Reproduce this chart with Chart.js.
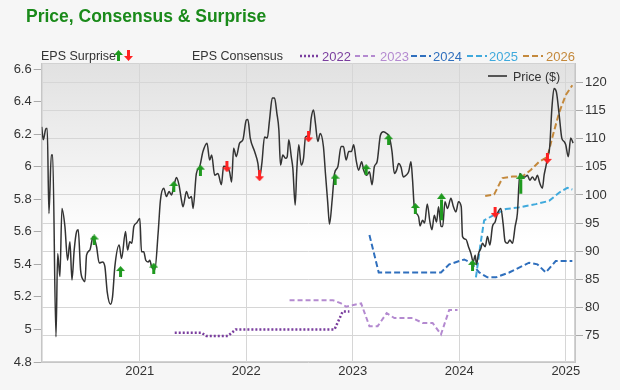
<!DOCTYPE html>
<html>
<head>
<meta charset="utf-8">
<script src="https://cdn.jsdelivr.net/npm/chart.js@4.4.1/dist/chart.umd.min.js"></script>
<style>
  html, body { margin: 0; padding: 0; background: #f6f6f6; }
  #wrap { width: 620px; height: 390px; }
</style>
</head>
<body>
<div id="wrap"><canvas id="myChart" width="620" height="390"></canvas></div>
<script>
// dates are decimal years
const priceDates = [
  2020.079, 2020.094, 2020.119, 2020.131, 2020.147, 2020.169, 2020.182, 2020.213, 2020.229, 2020.250,
  2020.269, 2020.297, 2020.322, 2020.344, 2020.363, 2020.384, 2020.407, 2020.422, 2020.444, 2020.469,
  2020.485, 2020.500, 2020.531, 2020.562, 2020.594, 2020.619, 2020.650, 2020.672, 2020.694, 2020.725,
  2020.744, 2020.766, 2020.806, 2020.829, 2020.866, 2020.885, 2020.906, 2020.925, 2020.944, 2020.969,
  2021.000, 2021.016, 2021.037, 2021.056, 2021.078, 2021.094, 2021.110, 2021.141, 2021.172, 2021.194,
  2021.225, 2021.250, 2021.275, 2021.297, 2021.319, 2021.344, 2021.368, 2021.391, 2021.406, 2021.438,
  2021.462, 2021.485, 2021.500, 2021.531, 2021.562, 2021.593, 2021.631, 2021.656, 2021.675, 2021.703,
  2021.734, 2021.766, 2021.787, 2021.818, 2021.843, 2021.862, 2021.881, 2021.906, 2021.937, 2021.968,
  2022.000, 2022.015, 2022.037, 2022.078, 2022.109, 2022.125, 2022.146, 2022.171, 2022.197, 2022.218,
  2022.244, 2022.265, 2022.287, 2022.306, 2022.321, 2022.343, 2022.368, 2022.384, 2022.399, 2022.422,
  2022.437, 2022.459, 2022.474, 2022.493, 2022.515, 2022.537, 2022.556, 2022.593, 2022.609, 2022.631,
  2022.649, 2022.671, 2022.694, 2022.724, 2022.743, 2022.765, 2022.781, 2022.806, 2022.828, 2022.859,
  2022.890, 2022.912, 2022.937, 2022.962, 2022.987, 2023.008, 2023.031, 2023.055, 2023.083, 2023.102,
  2023.130, 2023.156, 2023.181, 2023.202, 2023.228, 2023.259, 2023.287, 2023.318, 2023.343, 2023.368,
  2023.390, 2023.411, 2023.430, 2023.453, 2023.474, 2023.500, 2023.524, 2023.546, 2023.561, 2023.577,
  2023.618, 2023.631, 2023.655, 2023.674, 2023.699, 2023.724, 2023.743, 2023.765, 2023.786, 2023.805,
  2023.828, 2023.844, 2023.865, 2023.889, 2023.921, 2023.943, 2023.968, 2023.992, 2024.018, 2024.030,
  2024.062, 2024.086, 2024.109, 2024.130, 2024.149, 2024.161, 2024.180, 2024.202, 2024.217, 2024.243,
  2024.264, 2024.287, 2024.311, 2024.336, 2024.358, 2024.390, 2024.411, 2024.430, 2024.452, 2024.474,
  2024.499, 2024.524, 2024.545, 2024.568, 2024.592, 2024.618, 2024.639, 2024.662, 2024.686, 2024.711,
  2024.733, 2024.755, 2024.780, 2024.796, 2024.812, 2024.827, 2024.849, 2024.868, 2024.889, 2024.911,
  2024.936, 2024.962, 2024.983, 2024.999, 2025.023, 2025.046, 2025.068
];
const priceValues = [
  112.1, 109.8, 111.8, 111.8, 96.7, 107.1, 107.1, 74.8, 89.6, 85.5,
  97.6, 94.4, 88.4, 91.7, 84.9, 90.2, 93.5, 93.8, 86.7, 84.9,
  84.6, 89.3, 90.2, 92.6, 90.8, 87.9, 88.1, 87.3, 82.8, 80.6,
  81.9, 87.3, 91.1, 88.7, 93.5, 90.2, 91.7, 91.4, 94.4, 95.0,
  95.8, 89.9, 89.9, 88.4, 88.1, 88.4, 87.3, 86.7, 93.2, 99.1,
  101.2, 99.7, 100.6, 100.0, 101.5, 103.1, 101.8, 99.1, 97.9, 100.6,
  99.4, 99.7, 97.6, 103.8, 105.0, 107.7, 109.2, 106.2, 107.1, 103.5,
  103.8, 101.8, 105.1, 105.0, 104.1, 102.3, 108.3, 106.8, 109.2, 109.8,
  113.3, 113.4, 110.1, 107.7, 105.6, 103.2, 105.6, 110.3, 110.1, 113.3,
  117.2, 117.2, 114.5, 111.5, 105.3, 107.1, 106.5, 106.8, 109.8, 106.8,
  104.7, 98.2, 104.4, 108.9, 105.3, 106.5, 110.3, 110.6, 113.6, 115.1,
  112.7, 109.5, 110.9, 108.6, 103.8, 98.5, 94.8, 99.1, 103.8, 105.0,
  108.6, 108.6, 106.2, 107.7, 107.7, 108.9, 106.2, 104.4, 105.9, 104.4,
  103.5, 104.1, 101.8, 105.0, 105.9, 110.6, 111.2, 110.9, 110.3, 107.7,
  103.8, 104.4, 105.6, 104.9, 103.2, 103.5, 104.1, 105.9, 102.6, 97.9,
  96.1, 94.5, 95.5, 95.0, 98.4, 95.2, 93.8, 96.4, 95.2, 97.9,
  94.4, 94.4, 98.8, 97.6, 99.4, 98.0, 97.0, 98.8, 97.9, 92.6,
  92.1, 90.8, 89.6, 88.1, 89.3, 87.6, 89.6, 90.5, 91.4, 90.8,
  92.6, 91.1, 94.4, 95.2, 96.7, 97.6, 94.9, 91.7, 91.4, 92.0,
  91.4, 94.4, 96.7, 103.8, 103.2, 103.2, 103.5, 102.6, 103.2, 102.6,
  103.5, 102.1, 101.2, 103.5, 105.0, 106.5, 108.6, 115.1, 118.9, 118.3,
  114.5, 110.1, 109.5, 108.9, 106.8, 110.1, 109.2
];

// EPS consensus per fiscal year (left axis)
const consensusYears = ['2022', '2023', '2024', '2025', '2026'];
const eps2022Dates = [2021.328, 2021.578, 2021.625, 2021.828, 2021.900, 2022.828, 2022.905, 2022.968];
const eps2022 = [4.98, 4.98, 4.96, 4.96, 5.00, 5.00, 5.11, 5.11];
const eps2023Dates = [2022.406, 2022.812, 2022.890, 2022.937, 2023.006, 2023.078, 2023.156, 2023.233,
  2023.318, 2023.390, 2023.561, 2023.655, 2023.749, 2023.828, 2023.905, 2023.983];
const eps2023 = [5.18, 5.18, 5.16, 5.14, 5.15, 5.16, 5.02, 5.02, 5.10, 5.07, 5.07, 5.04, 5.04, 4.97, 5.12, 5.12];
const eps2024Dates = [2023.156, 2023.243, 2023.828, 2023.905, 2024.046, 2024.109, 2024.187, 2024.264,
  2024.343, 2024.468, 2024.655, 2024.733, 2024.812, 2024.905, 2025.061];
const eps2024 = [5.58, 5.35, 5.35, 5.40, 5.43, 5.41, 5.35, 5.32, 5.32, 5.35, 5.41, 5.40, 5.35, 5.42, 5.42];
const eps2025Dates = [2024.156, 2024.202, 2024.233, 2024.343, 2024.437, 2024.561, 2024.718, 2024.843,
  2024.936, 2025.014, 2025.061];
const eps2025 = [5.32, 5.54, 5.67, 5.71, 5.74, 5.75, 5.77, 5.79, 5.84, 5.87, 5.86];
const eps2026Dates = [2024.243, 2024.327, 2024.405, 2024.499, 2024.592, 2024.671, 2024.749, 2024.827,
  2024.873, 2024.936, 2024.999, 2025.061];
const eps2026 = [5.82, 5.83, 5.93, 5.94, 5.94, 5.98, 6.03, 6.06, 6.18, 6.33, 6.44, 6.50];

// EPS surprise markers, sitting on the price (right axis)
const surpriseDates = [2020.572, 2020.819, 2021.131, 2021.319, 2021.569, 2021.818, 2022.125, 2022.584,
  2022.834, 2023.125, 2023.336, 2023.587, 2024.124, 2024.336, 2024.827];
const surpriseValues = [92.0, 86.4, 87.0, 101.5, 104.4, 105.0, 103.4, 110.3, 102.8, 104.5, 109.8, 97.6, 87.5, 96.9, 106.5];
const surpriseBeat = [true, true, true, true, true, false, false, false, true, true, true, true, true, false, false];
// the two big beats, drawn from price up to the arrow head
const bigSurpriseDates = [2023.833, 2024.577];
const bigSurpriseFrom = [95.5, 100.2];
const bigSurpriseTo = [99.8, 103.4];

const xTicks = [2021, 2022, 2023, 2024, 2025];
const epsTicks = [4.8, 5, 5.2, 5.4, 5.6, 5.8, 6, 6.2, 6.4, 6.6];
const priceTicks = [75, 80, 85, 90, 95, 100, 105, 110, 115, 120];

const GREEN = '#1f9a1f';
const RED = '#ff2222';
const yearColors = ['#7a3e9e', '#b48ad0', '#2f6fbd', '#3fa9dc', '#c4893c'];
const yearDash = [[2, 2], [5, 3], [6, 3], [6, 3], [6, 3]];

function makeArrow(up, color, withStem) {
  const c = document.createElement('canvas');
  c.width = 9; c.height = withStem ? 11 : 6;
  const g = c.getContext('2d');
  g.fillStyle = color;
  g.beginPath();
  if (withStem) {
    if (up) {
      g.moveTo(4.5, 0); g.lineTo(9, 5); g.lineTo(6, 5); g.lineTo(6, 11);
      g.lineTo(3, 11); g.lineTo(3, 5); g.lineTo(0, 5);
    } else {
      g.moveTo(4.5, 11); g.lineTo(9, 6); g.lineTo(6, 6); g.lineTo(6, 0);
      g.lineTo(3, 0); g.lineTo(3, 6); g.lineTo(0, 6);
    }
  } else {
    g.moveTo(4.5, 0); g.lineTo(9, 6); g.lineTo(0, 6);
  }
  g.closePath();
  g.fill();
  return c;
}
const upImg = makeArrow(true, GREEN, true);
const downImg = makeArrow(false, RED, true);
const headImg = makeArrow(true, GREEN, false);

function pts(xs, ys) {
  return xs.map((x, i) => ({ x: x, y: ys[i] }));
}

const stemData = [];
bigSurpriseDates.forEach((d, i) => {
  stemData.push({ x: d, y: bigSurpriseFrom[i] }, { x: d, y: bigSurpriseTo[i] - 0.6 }, { x: d, y: null });
});

const epsSeries = [
  [eps2022Dates, eps2022], [eps2023Dates, eps2023], [eps2024Dates, eps2024],
  [eps2025Dates, eps2025], [eps2026Dates, eps2026]
];

const datasets = [
  {
    label: 'surprise', data: pts(surpriseDates, surpriseValues), yAxisID: 'y1',
    showLine: false, pointRadius: 5,
    pointStyle: c => surpriseBeat[c.dataIndex] ? upImg : downImg
  },
  {
    label: 'bigHead', data: pts(bigSurpriseDates, bigSurpriseTo), yAxisID: 'y1',
    showLine: false, pointRadius: 5, pointStyle: headImg
  },
  {
    label: 'bigStem', data: stemData, yAxisID: 'y1', spanGaps: false,
    borderColor: GREEN, borderWidth: 3, pointRadius: 0
  },
  {
    label: 'Price ($)', data: pts(priceDates, priceValues), yAxisID: 'y1',
    borderColor: '#333333', borderWidth: 1.5, pointRadius: 0,
    cubicInterpolationMode: 'monotone'
  }
];
epsSeries.slice().reverse().forEach((s, k) => {
  const i = epsSeries.length - 1 - k;
  datasets.push({
    label: consensusYears[i], data: pts(s[0], s[1]), yAxisID: 'y',
    borderColor: yearColors[i], borderWidth: i === 0 ? 2.5 : 2, borderDash: yearDash[i],
    pointRadius: 0, tension: 0
  });
});

const decor = {
  id: 'decor',
  beforeDraw(chart) {
    const { ctx, chartArea: a } = chart;
    ctx.save();
    const g = ctx.createLinearGradient(0, a.top, 0, a.bottom);
    g.addColorStop(0, '#e1e1e1');
    g.addColorStop(0.6, '#ffffff');
    g.addColorStop(1, '#ffffff');
    ctx.fillStyle = g;
    ctx.fillRect(a.left, a.top, a.right - a.left, a.bottom - a.top);
    ctx.strokeStyle = '#d2d2d2';
    ctx.lineWidth = 1;
    ctx.strokeRect(a.left + 0.5, a.top + 0.5, a.right - a.left - 1, a.bottom - a.top - 1);
    ctx.restore();
  },
  afterDraw(chart) {
    const ctx = chart.ctx;
    ctx.save();
    ctx.textBaseline = 'alphabetic';
    ctx.fillStyle = '#1a8a1a';
    ctx.font = 'bold 17.5px Arial, "Liberation Sans"';
    ctx.fillText('Price, Consensus & Surprise', 26, 22);

    ctx.fillStyle = '#333';
    ctx.font = '12.5px Arial, "Liberation Sans"';
    ctx.fillText('EPS Surprise', 41, 60);
    ctx.drawImage(upImg, 114, 50);
    ctx.drawImage(downImg, 124, 50);
    ctx.fillText('EPS Consensus', 192, 60);

    const lineX = [300, 355, 411, 467, 523];
    const textX = [322, 380, 433, 489, 546];
    ctx.font = '13px Arial, "Liberation Sans"';
    consensusYears.forEach((y, i) => {
      ctx.strokeStyle = yearColors[i];
      ctx.lineWidth = i === 0 ? 2.5 : 2;
      ctx.setLineDash(yearDash[i]);
      ctx.beginPath();
      ctx.moveTo(lineX[i], 56);
      ctx.lineTo(lineX[i] + 20, 56);
      ctx.stroke();
      ctx.fillStyle = yearColors[i];
      ctx.fillText(y, textX[i], 60.5);
    });
    ctx.setLineDash([]);
    ctx.strokeStyle = '#555';
    ctx.lineWidth = 2;
    ctx.beginPath();
    ctx.moveTo(488, 76);
    ctx.lineTo(507, 76);
    ctx.stroke();
    ctx.fillStyle = '#333';
    ctx.font = '12.5px Arial, "Liberation Sans"';
    ctx.fillText('Price ($)', 513, 80.5);
    ctx.restore();
  }
};

const tickFont = { family: 'Arial, "Liberation Sans"', size: 13 };

new Chart(document.getElementById('myChart'), {
  type: 'line',
  data: { datasets: datasets },
  options: {
    responsive: false,
    animation: false,
    layout: { padding: { top: 63, left: 0, right: 0, bottom: 0 } },
    plugins: { legend: { display: false }, tooltip: { enabled: false } },
    scales: {
      x: {
        type: 'linear', min: 2020.079, max: 2025.086,
        afterBuildTicks: s => { s.ticks = xTicks.map(v => ({ value: v })); },
        afterFit: s => { s.height = 28; },
        ticks: { callback: v => String(v), color: '#333', font: tickFont, padding: 2, maxRotation: 0 },
        grid: { color: '#d6d6d6', drawTicks: false },
        border: { color: '#c6c6c6' }
      },
      y: {
        position: 'left', min: 4.8, max: 6.637,
        afterBuildTicks: s => { s.ticks = epsTicks.map(v => ({ value: v })); },
        afterFit: s => { s.width = 41.7; },
        ticks: { callback: v => String(v), color: '#333', font: tickFont, padding: 2 },
        grid: { drawOnChartArea: false, tickLength: 8, color: '#aaa' },
        border: { color: '#c6c6c6' }
      },
      y1: {
        position: 'right', min: 70.33, max: 123.43,
        afterBuildTicks: s => { s.ticks = priceTicks.map(v => ({ value: v })); },
        afterFit: s => { s.width = 45; },
        ticks: { callback: v => String(v), color: '#333', font: tickFont, padding: 2 },
        grid: { color: '#d6d6d6', tickLength: 8, tickColor: '#aaa' },
        border: { color: '#c6c6c6' }
      }
    }
  },
  plugins: [decor]
});
</script>
</body>
</html>
